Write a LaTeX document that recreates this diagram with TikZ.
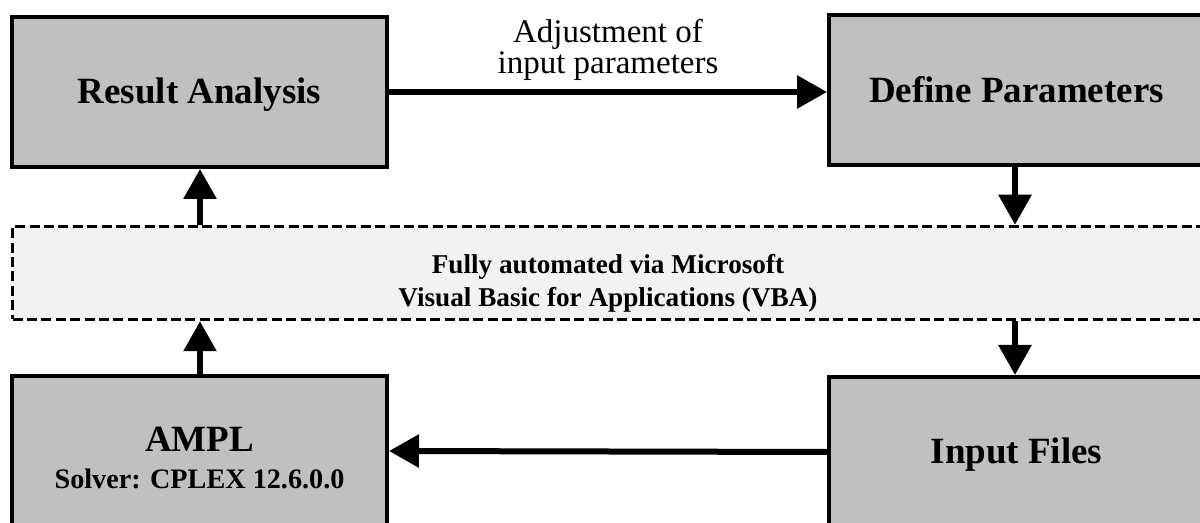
\documentclass[tikz,border=0pt]{standalone}
\usepackage{fontspec}
\setmainfont{Liberation Serif}
\usetikzlibrary{arrows.meta}
\begin{document}
\begin{tikzpicture}[
  x=0.5pt, y=-0.5pt,
  stage/.style={draw, line width=2pt, fill=boxgray, minimum width=187.5pt,
    minimum height=75pt, align=center, inner sep=0pt,
    font=\bfseries\fontsize{18.5}{22}\selectfont},
  auto box/.style={draw, line width=1.75pt, dash pattern=on 5pt off 2.2pt,
    fill=autogray, minimum width=595.5pt, minimum height=46.5pt,
    align=center, inner sep=0pt,
    font=\bfseries\fontsize{13.6}{16.2}\selectfont},
  flow/.style={line width=3pt, -{Triangle[length=15pt,width=16pt]}}]
\definecolor{boxgray}{HTML}{C0C0C0}
\definecolor{autogray}{HTML}{F2F2F2}
\useasboundingbox (0,0) rectangle (1200,523);
\clip (0,0) rectangle (1200,523);
% stages of the loop
\node [stage] (result) at (199.5,92) {\rule{0pt}{15pt}Result Analysis};
\node [stage] (define) at (1016.5,90) {Define Parameters};
\node [stage] (ampl) at (199.5,451)
  {\rule{0pt}{19.5pt}AMPL\\[-3.5pt]{\fontsize{14.1}{16}\selectfont Solver: CPLEX 12.6.0.0}};
\node [stage] (input) at (1016.5,452) {\rule{0pt}{15pt}Input Files};
\node [auto box] (vba) at (608,273)
  {\rule{0pt}{20pt}Fully automated via Microsoft\\Visual Basic for Applications (VBA)};
% connectors
\draw [flow] (result.east) -- (result.east -| define.west)
  node [midway, above=1pt, align=center, font=\fontsize{16.5}{15.5}\selectfont]
  (adjust) {Adjustment of\\input parameters};
\draw [flow] (define.south -| 1015,0) -- (vba.north -| 1015,0);
\draw [flow] (vba.south -| 1015,0) -- (input.north -| 1015,0);
\draw [flow] (input.west) -- (ampl.east);
\draw [flow] (ampl.north -| 200,0) -- (vba.south -| 200,0);
\draw [flow] (vba.north -| 200,0) -- (result.south -| 200,0);
\end{tikzpicture}
\end{document}
